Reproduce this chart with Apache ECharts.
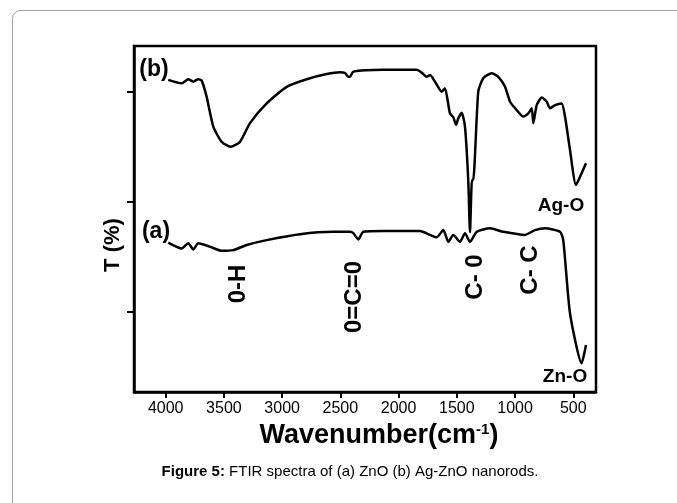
<!DOCTYPE html>
<html>
<head>
<meta charset="utf-8">
<script src="https://cdn.jsdelivr.net/npm/echarts@6/dist/echarts.min.js"></script>
<style>
	html, body { margin: 0; padding: 0; background: #fff; }
	#chart { width: 677px; height: 503px; }
</style>
</head>
<body>
<div id="chart"></div>
<script>
// spectrum (b) Ag-ZnO: wavenumber (cm-1) and transmittance (arb.)
const wnB = [ 3978, 3863, 3806, 3763, 3720, 3691, 3648, 3591, 3519, 3442, 3362, 3276, 3133, 2961, 2789, 2617, 2503, 2460, 2432, 2417, 2389, 2131, 1845, 1802, 1759, 1730, 1688, 1630, 1602, 1559, 1530, 1507, 1487, 1458, 1430, 1402, 1387, 1370, 1359, 1316, 1273, 1201, 1144, 1086, 1043, 986, 929, 886, 857, 843, 814, 771, 728, 700, 657, 600, 571, 528, 477, 442, 391 ]
const tB = [ 90.2, 89.2, 90.4, 89.7, 90.4, 90.0, 85.3, 76.7, 72.3, 70.9, 72.3, 77.7, 83.4, 88.2, 90.4, 91.9, 92.4, 92.2, 91.1, 91.1, 92.6, 93.1, 93.1, 92.3, 91.1, 91.6, 89.7, 86.8, 87.8, 80.5, 79.4, 77.2, 79.1, 80.7, 76.7, 61.3, 46.2, 61.3, 61.3, 86.8, 90.7, 92.1, 91.1, 88.2, 83.9, 81.5, 79.6, 80.5, 82.0, 77.7, 82.9, 85.1, 83.9, 82.0, 82.9, 83.4, 79.6, 69.9, 59.8, 62.2, 66.1 ]

// spectrum (a) ZnO
const wnA = [ 3978, 3863, 3806, 3763, 3720, 3620, 3519, 3420, 3304, 3133, 2847, 2561, 2417, 2389, 2346, 2303, 2131, 1816, 1730, 1673, 1616, 1573, 1530, 1473, 1430, 1387, 1329, 1215, 1101, 915, 829, 743, 614, 586, 528, 428, 391 ]
const tA = [ 43.2, 41.5, 43.0, 41.2, 43.0, 42.0, 40.8, 41.0, 42.5, 43.9, 45.6, 46.3, 46.3, 45.9, 44.1, 46.3, 46.5, 46.5, 45.4, 44.7, 46.8, 43.4, 45.4, 43.4, 45.9, 43.4, 46.3, 47.3, 46.3, 45.4, 46.8, 47.3, 46.3, 43.9, 22.7, 8.3, 13.6 ]

const xTicks = [ 4000, 3500, 3000, 2500, 2000, 1500, 1000, 500 ]
const yTicks = [ 23.1, 54.9, 86.7 ]

const font = '"Liberation Sans", Arial, sans-serif'

const dom = document.getElementById( 'chart' )
const chart = echarts.init( dom, null, { renderer: 'canvas' } )

const pairs = ( xs, ys ) => xs.map( ( x, i ) => [ x, ys[ i ] ] )

const bandLabel = ( text, x, y ) => ( {
	type: 'text',
	x, y,
	rotation: Math.PI / 2,
	style: {
		text,
		font: 'bold 24px ' + font,
		fill: '#000',
		align: 'center',
		verticalAlign: 'middle'
	}
} )

const plainLabel = ( text, x, y, size ) => ( {
	type: 'text',
	x, y,
	style: {
		text,
		font: 'bold ' + size + 'px ' + font,
		fill: '#000',
		align: 'center',
		verticalAlign: 'middle'
	}
} )

const option = {
	animation: false,
	backgroundColor: '#fff',
	grid: {
		left: 134,
		top: 46,
		width: 462,
		height: 346,
		show: true,
		borderColor: '#000',
		borderWidth: 2.5
	},
	xAxis: {
		type: 'value',
		inverse: true,
		min: 305,
		max: 4272,
		name: 'Wavenumber(cm{sup|-1})',
		nameLocation: 'middle',
		nameGap: 30,
		nameTextStyle: {
			fontFamily: font,
			fontWeight: 'bold',
			fontSize: 27,
			color: '#000',
			padding: [ 0, 0, 0, 28 ],
			rich: {
				sup: {
					fontFamily: font,
					fontWeight: 'bold',
					fontSize: 15,
					color: '#000',
					verticalAlign: 'top',
					padding: [ 0, 0, 11, 0 ]
				}
			}
		},
		axisLine: { lineStyle: { color: '#000', width: 2.5 } },
		axisTick: { customValues: xTicks, length: 6, lineStyle: { color: '#000', width: 2 } },
		axisLabel: {
			customValues: xTicks,
			formatter: v => String( v ),
			margin: 9,
			fontFamily: font,
			fontSize: 16,
			color: '#000'
		},
		splitLine: { show: false }
	},
	yAxis: {
		type: 'value',
		min: 0,
		max: 100,
		axisLine: { show: true, lineStyle: { color: '#000', width: 2.5 } },
		axisTick: { show: true, customValues: yTicks, length: 7, lineStyle: { color: '#000', width: 2 } },
		axisLabel: { show: false },
		splitLine: { show: false }
	},
	series: [
		{
			name: '(b)',
			type: 'line',
			data: pairs( wnB, tB ),
			showSymbol: false,
			smooth: 0.2,
			lineStyle: { color: '#000', width: 2.5 }
		},
		{
			name: '(a)',
			type: 'line',
			data: pairs( wnA, tA ),
			showSymbol: false,
			smooth: 0.2,
			lineStyle: { color: '#000', width: 2.5 }
		}
	],
	graphic: [
		{
			type: 'rect',
			shape: { x: 12.5, y: 10.5, width: 720, height: 620, r: 8 },
			style: { fill: 'none', stroke: '#a0a0a0', lineWidth: 1 },
			z: -10
		},
		plainLabel( '(b)', 154, 70, 23 ),
		plainLabel( '(a)', 156, 232, 23 ),
		plainLabel( 'Ag-O', 561, 206, 19 ),
		plainLabel( 'Zn-O', 565, 377, 19 ),
		bandLabel( '0-H', 238, 284 ),
		bandLabel( '0=C=0', 354, 297 ),
		bandLabel( 'C- 0', 475, 277 ),
		bandLabel( 'C- C', 530, 270 ),
		{
			type: 'text',
			x: 113, y: 245,
			rotation: Math.PI / 2,
			style: {
				text: 'T (%)',
				font: 'bold 22px ' + font,
				fill: '#000',
				align: 'center',
				verticalAlign: 'middle'
			}
		},
		{
			type: 'text',
			x: 350, y: 472,
			style: {
				text: '{b|Figure 5:} FTIR spectra of (a) ZnO (b) Ag-ZnO nanorods.',
				font: '15px ' + font,
				fill: '#000',
				align: 'center',
				verticalAlign: 'middle',
				rich: {
					b: { font: 'bold 15px ' + font, fill: '#000' }
				}
			}
		}
	]
}

chart.setOption( option )
</script>
</body>
</html>
